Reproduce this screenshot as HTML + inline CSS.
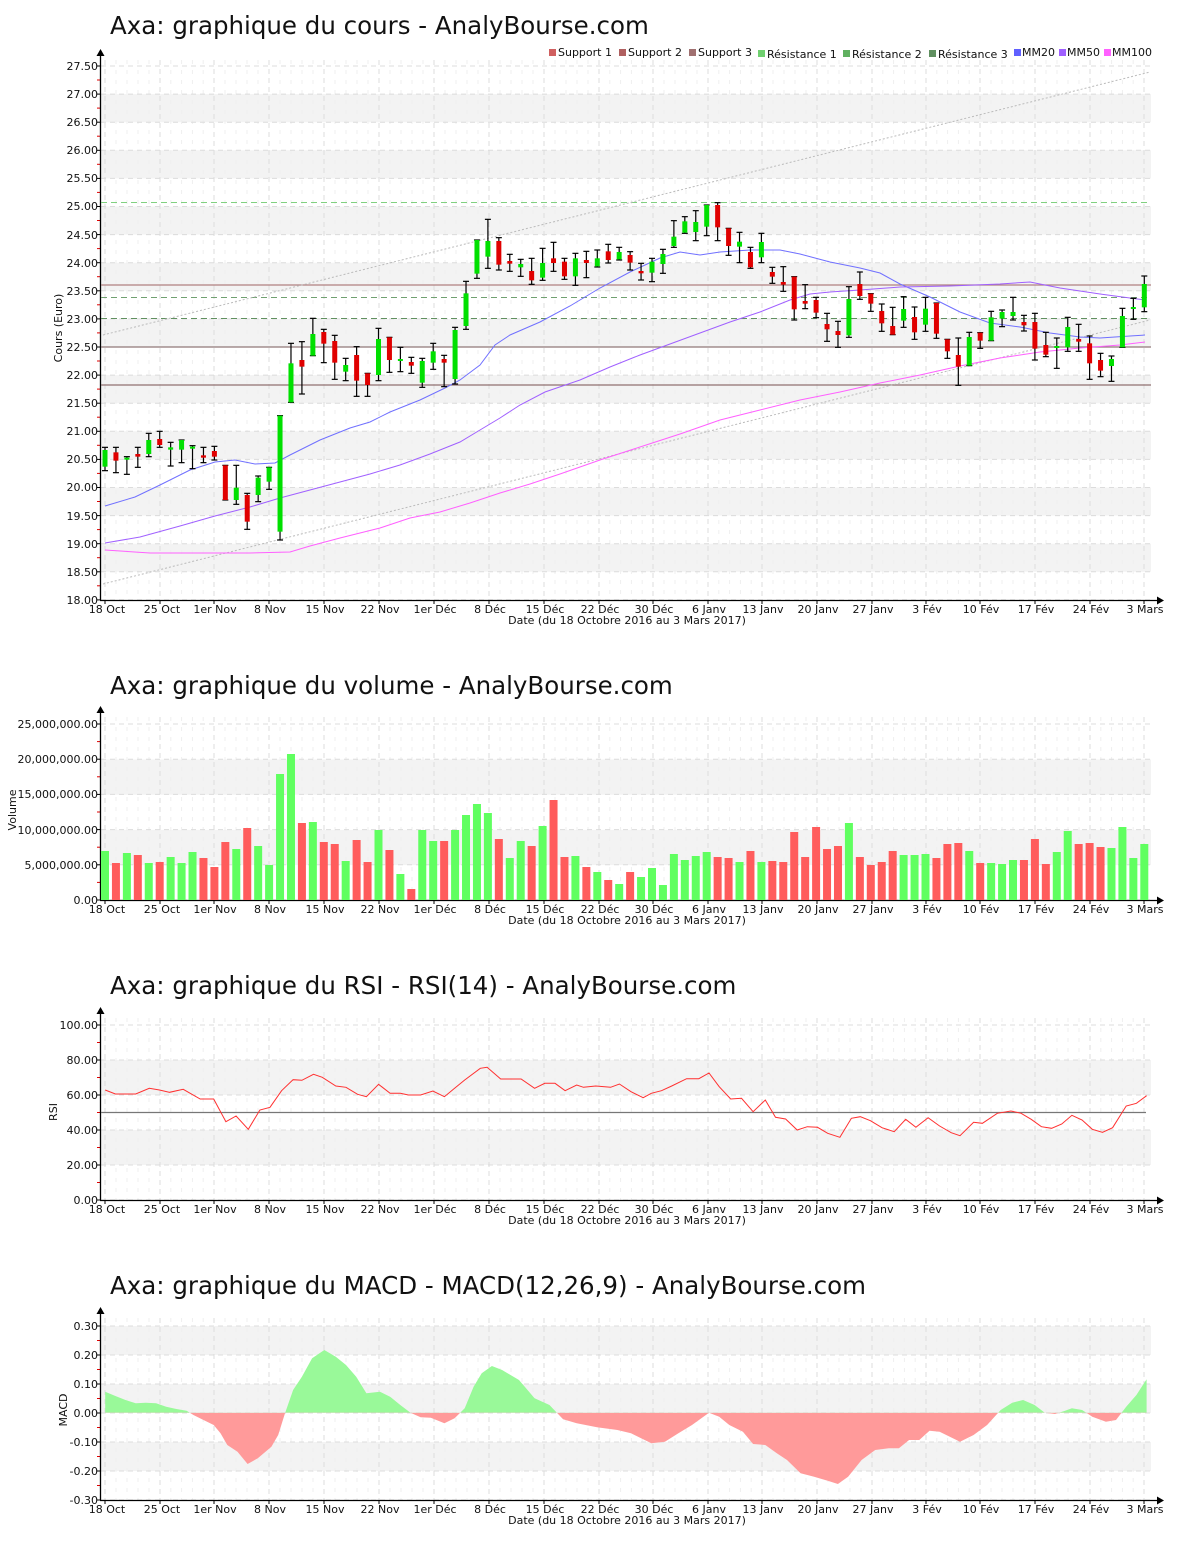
<!DOCTYPE html>
<html><head><meta charset="utf-8"><style>
body{margin:0;background:#fff}
svg{display:block;font-family:"DejaVu Sans","Liberation Sans",sans-serif}
.t{font-size:24.5px;fill:#111}
.yl{font-size:11px;fill:#111;text-anchor:end}
.xl{font-size:11px;fill:#111;text-anchor:middle}
.lg{font-size:11px;fill:#111}
</style></head><body>
<svg id="s" width="1200" height="1550" viewBox="0 0 1200 1550" xmlns="http://www.w3.org/2000/svg">
<rect width="1200" height="1550" fill="#fff"/>
<g id="bg"></g>
<text class="t" x="110" y="34">Axa: graphique du cours - AnalyBourse.com</text>
<text class="t" x="110" y="694">Axa: graphique du volume - AnalyBourse.com</text>
<text class="t" x="110" y="994">Axa: graphique du RSI - RSI(14) - AnalyBourse.com</text>
<text class="t" x="110" y="1294">Axa: graphique du MACD - MACD(12,26,9) - AnalyBourse.com</text>
<g class="lg">
<rect x="549" y="49" width="7" height="7" fill="#d06060"/><text x="558" y="56">Support 1</text>
<rect x="619" y="49" width="7" height="7" fill="#b06060"/><text x="628" y="56">Support 2</text>
<rect x="689" y="49" width="7" height="7" fill="#a07070"/><text x="698" y="56">Support 3</text>
<rect x="758" y="50" width="7" height="7" fill="#70d070"/><text x="767" y="58">Résistance 1</text>
<rect x="843" y="50" width="7" height="7" fill="#60b060"/><text x="852" y="58">Résistance 2</text>
<rect x="929" y="50" width="7" height="7" fill="#609060"/><text x="938" y="58">Résistance 3</text>
<rect x="1014" y="49" width="7" height="7" fill="#6060ff"/><text x="1022" y="56">MM20</text>
<rect x="1059" y="49" width="7" height="7" fill="#a060ff"/><text x="1067" y="56">MM50</text>
<rect x="1104" y="49" width="7" height="7" fill="#ff60ff"/><text x="1112" y="56">MM100</text>
</g>
<g class="yl">
<text x="98" y="70">27.50</text><text x="98" y="98">27.00</text><text x="98" y="126">26.50</text><text x="98" y="154">26.00</text><text x="98" y="182">25.50</text><text x="98" y="210">25.00</text><text x="98" y="239">24.50</text><text x="98" y="267">24.00</text><text x="98" y="295">23.50</text><text x="98" y="323">23.00</text><text x="98" y="351">22.50</text><text x="98" y="379">22.00</text><text x="98" y="407">21.50</text><text x="98" y="435">21.00</text><text x="98" y="463">20.50</text><text x="98" y="491">20.00</text><text x="98" y="520">19.50</text><text x="98" y="548">19.00</text><text x="98" y="576">18.50</text><text x="98" y="604">18.00</text>
<text x="98" y="728">25,000,000.00</text><text x="98" y="763">20,000,000.00</text><text x="98" y="798">15,000,000.00</text><text x="98" y="834">10,000,000.00</text><text x="98" y="869">5,000,000.00</text><text x="98" y="904">0.00</text>
<text x="98" y="1029">100.00</text><text x="98" y="1064">80.00</text><text x="98" y="1099">60.00</text><text x="98" y="1134">40.00</text><text x="98" y="1169">20.00</text><text x="98" y="1204">0.00</text>
<text x="98" y="1330">0.30</text><text x="98" y="1359">0.20</text><text x="98" y="1388">0.10</text><text x="98" y="1417">0.00</text><text x="98" y="1446">-0.10</text><text x="98" y="1475">-0.20</text><text x="98" y="1504">-0.30</text>
</g>
<g class="yl" style="text-anchor:middle">
<text transform="translate(62,328) rotate(-90)">Cours (Euro)</text>
<text transform="translate(16,810) rotate(-90)">Volume</text>
<text transform="translate(57,1112) rotate(-90)">RSI</text>
<text transform="translate(67,1410) rotate(-90)">MACD</text>
</g>
<g class="xl">
<text x="627" y="624">Date (du 18 Octobre 2016 au 3 Mars 2017)</text>
<text x="627" y="924">Date (du 18 Octobre 2016 au 3 Mars 2017)</text>
<text x="627" y="1224">Date (du 18 Octobre 2016 au 3 Mars 2017)</text>
<text x="627" y="1524">Date (du 18 Octobre 2016 au 3 Mars 2017)</text>
</g>
<g class="xl"><text x="107" y="613">18 Oct</text><text x="162" y="613">25 Oct</text><text x="215" y="613">1er Nov</text><text x="270" y="613">8 Nov</text><text x="325" y="613">15 Nov</text><text x="380" y="613">22 Nov</text><text x="435" y="613">1er Déc</text><text x="490" y="613">8 Déc</text><text x="545" y="613">15 Déc</text><text x="600" y="613">22 Déc</text><text x="654" y="613">30 Déc</text><text x="709" y="613">6 Janv</text><text x="763" y="613">13 Janv</text><text x="818" y="613">20 Janv</text><text x="873" y="613">27 Janv</text><text x="927" y="613">3 Fév</text><text x="981" y="613">10 Fév</text><text x="1036" y="613">17 Fév</text><text x="1091" y="613">24 Fév</text><text x="1145" y="613">3 Mars</text></g>
<g class="xl"><text x="107" y="913">18 Oct</text><text x="162" y="913">25 Oct</text><text x="215" y="913">1er Nov</text><text x="270" y="913">8 Nov</text><text x="325" y="913">15 Nov</text><text x="380" y="913">22 Nov</text><text x="435" y="913">1er Déc</text><text x="490" y="913">8 Déc</text><text x="545" y="913">15 Déc</text><text x="600" y="913">22 Déc</text><text x="654" y="913">30 Déc</text><text x="709" y="913">6 Janv</text><text x="763" y="913">13 Janv</text><text x="818" y="913">20 Janv</text><text x="873" y="913">27 Janv</text><text x="927" y="913">3 Fév</text><text x="981" y="913">10 Fév</text><text x="1036" y="913">17 Fév</text><text x="1091" y="913">24 Fév</text><text x="1145" y="913">3 Mars</text></g>
<g class="xl"><text x="107" y="1213">18 Oct</text><text x="162" y="1213">25 Oct</text><text x="215" y="1213">1er Nov</text><text x="270" y="1213">8 Nov</text><text x="325" y="1213">15 Nov</text><text x="380" y="1213">22 Nov</text><text x="435" y="1213">1er Déc</text><text x="490" y="1213">8 Déc</text><text x="545" y="1213">15 Déc</text><text x="600" y="1213">22 Déc</text><text x="654" y="1213">30 Déc</text><text x="709" y="1213">6 Janv</text><text x="763" y="1213">13 Janv</text><text x="818" y="1213">20 Janv</text><text x="873" y="1213">27 Janv</text><text x="927" y="1213">3 Fév</text><text x="981" y="1213">10 Fév</text><text x="1036" y="1213">17 Fév</text><text x="1091" y="1213">24 Fév</text><text x="1145" y="1213">3 Mars</text></g>
<g class="xl"><text x="107" y="1513">18 Oct</text><text x="162" y="1513">25 Oct</text><text x="215" y="1513">1er Nov</text><text x="270" y="1513">8 Nov</text><text x="325" y="1513">15 Nov</text><text x="380" y="1513">22 Nov</text><text x="435" y="1513">1er Déc</text><text x="490" y="1513">8 Déc</text><text x="545" y="1513">15 Déc</text><text x="600" y="1513">22 Déc</text><text x="654" y="1513">30 Déc</text><text x="709" y="1513">6 Janv</text><text x="763" y="1513">13 Janv</text><text x="818" y="1513">20 Janv</text><text x="873" y="1513">27 Janv</text><text x="927" y="1513">3 Fév</text><text x="981" y="1513">10 Fév</text><text x="1036" y="1513">17 Fév</text><text x="1091" y="1513">24 Fév</text><text x="1145" y="1513">3 Mars</text></g>
<g id="fg"></g>
</svg>
<script>
var bg='',fg='';
var TX=[105,160,214,269,324,379,434,489,544,599,653,708,762,817,872,926,980,1035,1090,1144];
function panel(top,bot,grey,ticks,mid){
  bg+='<rect x="101" y="'+top+'" width="1050" height="'+(bot-top)+'" fill="#fff"/>';
  grey.forEach(function(g){bg+='<rect x="101" y="'+g[0]+'" width="1050" height="'+(g[1]-g[0])+'" fill="#f3f3f3"/>';});
  TX.forEach(function(x){bg+='<line x1="'+x+'" y1="'+top+'" x2="'+x+'" y2="'+bot+'" stroke="#dcdcdc" stroke-dasharray="5,4"/>';
    fg+='<line x1="'+x+'" y1="'+bot+'" x2="'+x+'" y2="'+(bot+4)+'" stroke="#000"/>';});
  for(var i=0;i<TX.length-1;i++){for(var k=1;k<5;k++){var x=TX[i]+(TX[i+1]-TX[i])*k/5;bg+='<line x1="'+x+'" y1="'+top+'" x2="'+x+'" y2="'+bot+'" stroke="#efefef" stroke-dasharray="4,6"/>';}}
  ticks.forEach(function(y){bg+='<line x1="101" y1="'+y+'" x2="1151" y2="'+y+'" stroke="#dcdcdc" stroke-dasharray="5,4"/>';
    fg+='<line x1="97" y1="'+y+'" x2="101" y2="'+y+'" stroke="#000"/>';});
  mid.forEach(function(y){fg+='<line x1="97" y1="'+y+'" x2="100" y2="'+y+'" stroke="#e00000"/>';});
  fg+='<line x1="100.5" y1="'+(top-6)+'" x2="100.5" y2="'+bot+'" stroke="#000" stroke-width="1.3"/>';
  fg+='<path d="M96.5 '+(top-4)+' L100.5 '+(top-11)+' L104.5 '+(top-4)+'Z" fill="#000"/>';
  fg+='<line x1="100" y1="'+(bot+0.5)+'" x2="1158" y2="'+(bot+0.5)+'" stroke="#000" stroke-width="1.3"/>';
  fg+='<path d="M1157 '+(bot-3.5)+' L1164 '+(bot+0.5)+' L1157 '+(bot+4.5)+'Z" fill="#000"/>';
}
var g1=[],t1=[],m1=[];
for(var k=0;k<20;k++){t1.push(66+k*28.1);if(k<19)m1.push(80+k*28.1);}
for(var k=1;k<19;k+=2)g1.push([66+k*28.1,66+(k+1)*28.1]);
panel(60,600,g1,t1,m1);
panel(717,900,[[759.5,794.7],[829.9,865.1]],[724,759.2,794.4,829.6,864.8,900],[741.6,776.8,812,847.2,882.4]);
panel(1018,1200,[[1060,1095],[1130,1165]],[1025,1060,1095,1130,1165,1200],[1042.5,1077.5,1112.5,1147.5,1182.5]);
panel(1318,1500,[[1326,1355],[1384,1413],[1442,1471]],[1326,1355,1384,1413,1442,1471,1500],[1340.5,1369.5,1398.5,1427.5,1456.5,1485.5]);
function X(i){return 105+i*10.94;}
function pl(pts,c,w){return '<polyline fill="none" stroke="'+c+'" stroke-width="'+(w||1)+'" points="'+pts.map(function(p){return p.join(',')}).join(' ')+'"/>';}
fg+='<line x1="101" y1="285" x2="1151" y2="285" stroke="#b08080" stroke-width="1.2"/>';
fg+='<line x1="101" y1="347" x2="1151" y2="347" stroke="#907878" stroke-width="1.2"/>';
fg+='<line x1="101" y1="385" x2="1151" y2="385" stroke="#907070" stroke-width="1.2"/>';
fg+='<line x1="101" y1="202.5" x2="1151" y2="202.5" stroke="#80d080" stroke-dasharray="6,4"/>';
fg+='<line x1="101" y1="297.5" x2="1151" y2="297.5" stroke="#70a070" stroke-dasharray="6,4"/>';
fg+='<line x1="101" y1="318.5" x2="1151" y2="318.5" stroke="#609060" stroke-dasharray="6,4"/>';
fg+='<line x1="103" y1="335" x2="1150" y2="72" stroke="#bbb" stroke-dasharray="2,2"/>';
fg+='<line x1="103" y1="584" x2="1150" y2="320" stroke="#bbb" stroke-dasharray="2,2"/>';
fg+=pl([[105,506],[135,497],[160,485],[190,470],[215,462],[235,460],[255,464],[275,463],[290,455],[320,440],[350,428],[370,422],[390,412],[420,400],[445,388],[460,380],[480,365],[495,345],[510,335],[540,322],[570,306],[600,288],[630,272],[660,258],[680,252],[700,255],[720,252],[750,250],[780,250],[800,254],[830,262],[860,268],[880,273],[900,284],[930,297],[960,312],[990,323],[1020,327],[1050,333],[1080,337],[1100,338],[1130,336],[1145,335]],'#7070ff');
fg+=pl([[105,543],[140,537],[180,526],[215,516],[250,507],[280,498],[310,490],[340,482],[370,474],[400,465],[430,454],[460,442],[480,430],[500,418],[520,405],[545,392],[580,380],[610,367],[640,355],[670,344],[700,333],[730,322],[760,312],[790,300],[810,294],[830,292],[860,290],[900,287],[950,286],[1000,284],[1030,282],[1060,288],[1100,294],[1145,300]],'#a060ff');
fg+=pl([[105,550],[150,553],[200,553],[250,553],[290,552],[310,546],[340,538],[380,528],[410,518],[440,512],[470,503],[500,493],[530,484],[560,474],[600,460],[640,447],[680,434],[720,420],[760,410],[800,400],[840,392],[880,383],[920,375],[960,366],[1000,358],[1040,352],[1080,348],[1120,345],[1145,342]],'#ff60ff');
var C=[['g',780,830,772,842],['r',787,812,772,848],['g',803,808,800,853],['r',792,800,772,832],['g',750,792,730,800],['r',747,765,724,772],['g',772,779,757,828],['g',750,779,750,818],['g',770,776,767,836],['r',796,803,772,818],['r',783,800,769,810],['r',826,930,826,930],['g',893,930,826,943],['r',915,995,910,1018],['g',863,915,858,935],['g',832,875,832,898],['g',677,1025,677,1050],['g',520,637,460,637],['r',510,530,455,612],['g',432,497,385,497],['r',426,461,418,518],['r',453,518,436,568],['g',525,545,505,572],['r',495,572,470,619],['r',550,585,550,619],['g',447,555,415,572],['r',442,510,442,547],['g',507,512,472,545],['r',516,527,502,550],['g',513,578,505,592],['g',484,518,460,538],['r',507,518,496,590],['g',420,567,412,582],['g',310,408,274,418],['g',150,251,150,265],['g',153,200,88,235],['r',153,224,143,240],['r',213,221,193,244],['g',222,232,208,259],['r',243,271,205,283],['g',219,263,175,271],['r',205,219,157,244],['r',215,259,205,268],['g',205,259,190,286],['r',210,219,184,263],['g',205,229,180,231],['r',184,210,163,219],['g',186,208,172,210],
['r',195,218,185,240],['r',243,250,220,270],['g',215,248,205,275],['g',192,222,178,250],['g',140,168,92,172],['g',94,128,80,130],['g',96,126,62,152],['g',45,110,45,137],['r',45,112,38,152],['r',115,168,115,196],['g',155,170,127,218],['r',186,232,172,235],['g',156,202,130,218],['r',246,260,232,280],['r',276,284,230,304],['r',260,358,260,390],['r',333,341,284,356],['r',330,368,322,383],['r',402,418,370,454],['r',423,435,394,472],['g',327,436,290,442],['r',282,318,246,328],['r',311,341,311,364],['r',363,400,342,424],['r',408,434,352,434],['g',357,392,320,412],['r',381,427,351,448],['g',356,404,322,424],['r',339,431,339,445],['r',448,484,448,505],['r',495,530,444,586],['g',441,527,427,527],['r',428,452,428,475],['g',382,452,364,452],['g',366,386,360,410],['g',366,378,322,390],['r',396,406,376,423],['r',396,476,370,510],['r',465,494,427,500],['g',468,472,444,535],['g',411,472,382,484],['r',447,455,403,484],['r',460,520,438,568],['r',510,542,490,560],['g',507,528,498,574],['g',378,472,355,472],['g',351,357,325,388],['g',282,352,258,365]];
C.forEach(function(c,i){var x=X(i),f=function(z){return 190+z/3;};
 var wt=f(c[3]),wb=f(c[4]),bt=f(c[1]),bb=f(c[2]);if(bb-bt<2)bb=bt+2;
 fg+='<line x1="'+x+'" y1="'+wt+'" x2="'+x+'" y2="'+wb+'" stroke="#000" stroke-width="1.2"/>';
 fg+='<line x1="'+(x-3)+'" y1="'+wt+'" x2="'+(x+3)+'" y2="'+wt+'" stroke="#000" stroke-width="1.2"/><line x1="'+(x-3)+'" y1="'+wb+'" x2="'+(x+3)+'" y2="'+wb+'" stroke="#000" stroke-width="1.2"/>';
 fg+='<rect x="'+(x-2.5)+'" y="'+bt+'" width="5" height="'+(bb-bt)+'" fill="'+(c[0]=='g'?'#00e000':'#e00000')+'"/>';});
var V=[333,369,339,345,369,366,351,369,336,354,381,306,327,264,318,375,102,42,249,246,306,312,363,300,366,270,330,402,447,270,303,303,270,225,192,219,297,354,303,318,258,180,351,348,381,396,420,432,
396,411,384,435,342,360,348,336,351,354,366,333,366,363,366,276,351,261,327,318,249,351,375,366,333,345,345,342,354,312,309,333,369,369,372,360,360,297,372,336,273,312,309,321,324,261,354,312];
var VCOL='grgrgrggg'+'rrr'+'gr'+'gggg'+'rg'+'rrg'+'rrg'+'rgrgg'+'rgggg'+'rggrg'+'rrgrgrg'+'rgggggggrrgrgrrrrrrrgrrrrgggrrrgrgggrrrggrrrgggg';
V.forEach(function(z,i){var x=X(i),y=740+z/3;var c=VCOL.charAt(i)=='g'?'#60ff60':'#ff5c5c';
 fg+='<rect x="'+(x-4)+'" y="'+y+'" width="8" height="'+(900-y)+'" fill="'+c+'"/>';});
fg+='<line x1="101" y1="1112.5" x2="1146" y2="1112.5" stroke="#777" stroke-width="1.3"/>';
var R=[[15,120],[30,132],[60,132],[80,115],[95,120],[110,127],[130,118],[155,147],[175,147],[193,215],[208,198],[226,238],[243,180],[258,172],[275,122],[292,89],[305,91],[322,73],[335,82],[355,108],[370,112],[387,133],[400,140],[418,103],[435,130],[450,130],[462,135],[480,135],[498,123],[515,140],[530,115],[545,90],[568,55],[578,52],[598,87],[628,87],[648,115],[663,100],[678,100],[693,122],[710,105],[720,112],[738,108],[760,112],[773,102],[790,125],[808,143],[820,130],[835,122],[850,108],[872,86],[890,86],[905,69],[920,110],[937,147],[953,145],[970,185],[988,150],[1003,202],[1018,207],[1035,240],[1050,230],[1065,232],[1080,250],[1098,262],[1115,205],[1128,200],[1143,212],[1160,233],[1178,245],[1195,208],[1210,232],[1228,203],[1245,228],[1262,248],[1275,257],[1295,217],[1308,220],[1330,190],[1350,183],[1365,190],[1380,208],[1395,230],[1410,235],[1425,222],[1440,196],[1455,210],[1470,238],[1485,247],[1500,233],[1520,168],[1535,160],[1550,137]];
fg+=pl(R.map(function(p){return [(95+p[0]/1.474).toFixed(1),(1050+p[1]/3).toFixed(1)];}),'#ff3030',1);
var M=[[15,155],[30,168],[45,180],[60,190],[75,188],[90,190],[105,200],[120,207],[135,212],[145,225],[160,240],[175,255],[185,280],[195,315],[210,335],[225,372],[240,355],[260,320],[270,285],[280,220],[292,150],[305,110],[320,55],[338,30],[355,50],[370,75],[385,110],[400,160],[420,155],[435,170],[450,195],[465,218],[480,232],[495,233],[515,250],[530,235],[545,205],[558,140],[570,100],[585,78],[600,90],[625,120],[648,175],[670,195],[690,238],[710,250],[740,262],[770,270],[790,280],[805,295],[820,310],[840,305],[860,280],[880,255],[905,218],[920,230],[935,255],[955,275],[970,312],[988,315],[1005,340],[1020,360],[1040,400],[1060,410],[1080,422],[1095,432],[1110,410],[1130,360],[1150,330],[1170,325],[1185,325],[1200,300],[1215,300],[1230,272],[1245,275],[1260,290],[1275,305],[1295,285],[1315,255],[1335,210],[1352,188],[1368,180],[1385,195],[1400,218],[1415,222],[1430,212],[1440,205],[1455,210],[1470,230],[1490,245],[1505,240],[1520,200],[1535,165],[1550,118]];
var mp=M.map(function(p){return [(95+p[0]/1.474).toFixed(1),(1340+p[1]/3).toFixed(1)];});
var d='M'+mp[0][0]+' 1412.7 L'+mp.map(function(p){return p.join(' ')}).join(' L')+' L'+mp[mp.length-1][0]+' 1412.7Z';
fg+='<clipPath id="ca"><rect x="0" y="1300" width="1200" height="112.7"/></clipPath><clipPath id="cb"><rect x="0" y="1412.7" width="1200" height="100"/></clipPath>';
fg+='<path d="'+d+'" fill="#99f999" clip-path="url(#ca)"/><path d="'+d+'" fill="#ff9a9a" clip-path="url(#cb)"/>';
document.getElementById('bg').innerHTML=bg;
document.getElementById('fg').innerHTML=fg;
</script>
</body></html>
